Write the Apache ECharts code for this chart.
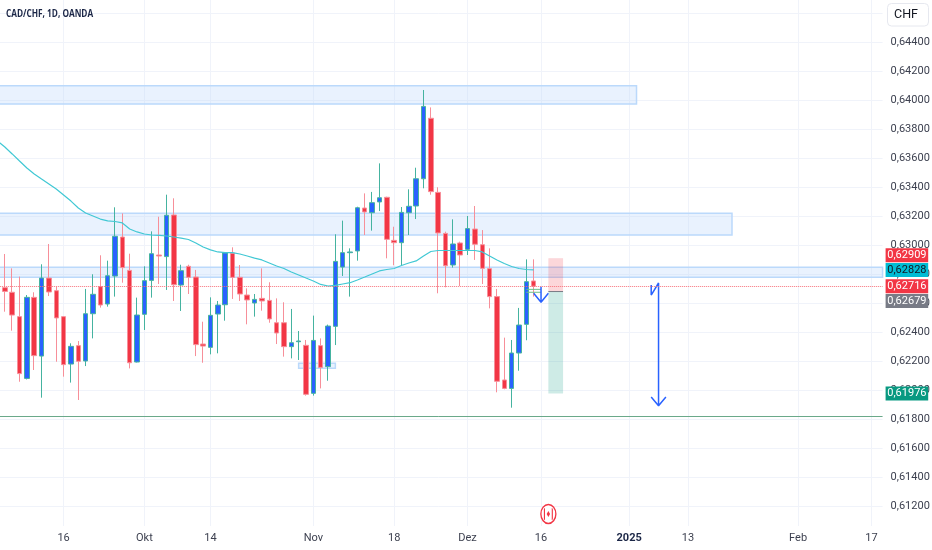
<!DOCTYPE html>
<html><head><meta charset="utf-8">
<script src="https://cdn.jsdelivr.net/npm/echarts@6/dist/echarts.min.js"></script>
<style>html,body{margin:0;padding:0;background:#fff;overflow:hidden;width:932px;height:550px}#c{position:absolute;left:-20px;top:-20px;width:972px;height:590px}</style>
</head><body><div id="c"></div>
<script>
const opens=[.63088,.62706,.62674,.62506,.62080,.62639,.62234,.62772,.62685,.62506,.62179,.62306,.62200,.62526,.62713,.62593,.62786,.63055,.62825,.62193,.62522,.62756,.62931,.62920,.63207,.62724,.62853,.62779,.62317,.62294,.62524,.62588,.62943,.62777,.62655,.62600,.62632,.62618,.62464,.62464,.62299,.62333,.62308,.61977,.62306,.62161,.62439,.62848,.62947,.62959,.63255,.63223,.63297,.63329,.63032,.63016,.63223,.63269,.63457,.63874,.63363,.63080,.62862,.63014,.62970,.63110,.63002,.62837,.62644,.62069,.62011,.62255,.62453,.62752];
const closes=[.62754,.62680,.62517,.62113,.62639,.62237,.62772,.62676,.62497,.62175,.62301,.62198,.62526,.62660,.62586,.62788,.63060,.62844,.62188,.62517,.62754,.62940,.62924,.63205,.62726,.62823,.62777,.62313,.62303,.62515,.62586,.62945,.62777,.62662,.62621,.62625,.62614,.62490,.62393,.62299,.62326,.62338,.61970,.62342,.62156,.62441,.62887,.62947,.62952,.63257,.63228,.63292,.63326,.63039,.63016,.63225,.63267,.63457,.63956,.63368,.63083,.62857,.63007,.62931,.63113,.63005,.62839,.62644,.62060,.62011,.62255,.62448,.62747,.62716];
const lows=[.62700,.62540,.62409,.62057,.62073,.62138,.61947,.62648,.62195,.62092,.62051,.61931,.62165,.62356,.62568,.62575,.62644,.62740,.62149,.62190,.62414,.62637,.62731,.62690,.62614,.62545,.62662,.62234,.62188,.62246,.62253,.62478,.62628,.62614,.62453,.62506,.62547,.62464,.62317,.62230,.62218,.62207,.61961,.61961,.62011,.62064,.62310,.62786,.62644,.62892,.63069,.63099,.63234,.62908,.62860,.62860,.63069,.63179,.63391,.63347,.62667,.62708,.62844,.62717,.62931,.62897,.62731,.62563,.61984,.62005,.61878,.62133,.62343,.62644];
const highs=[.63120,.62938,.62839,.62782,.62655,.62674,.62867,.63007,.62713,.62510,.62322,.62338,.62697,.62798,.62929,.62892,.63260,.63218,.62940,.62637,.62853,.63094,.63195,.63347,.63322,.62864,.62864,.62828,.62471,.62639,.62614,.62949,.62984,.62862,.62701,.62662,.62839,.62743,.62632,.62605,.62559,.62407,.62345,.62513,.62356,.62451,.63074,.63168,.62977,.63264,.63356,.63366,.63563,.63333,.63126,.63262,.63384,.63533,.64069,.63949,.63398,.63092,.63177,.63023,.63200,.63269,.63103,.62977,.62697,.62361,.62345,.62566,.62901,.62901];
const maValues=[.63717,.63676,.63628,.63579,.63531,.63490,.63455,.63421,.63386,.63345,.63303,.63255,.63221,.63200,.63179,.63166,.63162,.63152,.63110,.63090,.63076,.63069,.63067,.63062,.63055,.63048,.63038,.63014,.62986,.62966,.62952,.62948,.62948,.62938,.62924,.62910,.62897,.62876,.62855,.62838,.62814,.62793,.62772,.62752,.62728,.62717,.62721,.62731,.62740,.62759,.62779,.62800,.62821,.62831,.62838,.62859,.62876,.62890,.62924,.62955,.62962,.62962,.62962,.62962,.62962,.62962,.62952,.62924,.62897,.62872,.62852,.62838,.62831,.62828];

// Trading days, weekdays only, 2024-09-03 onward
const categories=[];
for(let d=new Date(Date.UTC(2024,8,3));categories.length<121;d=new Date(d.getTime()+864e5)){
  if(d.getUTCDay()%6!==0)categories.push(d.toISOString().slice(0,10));
}
const tickLabels={'2024-09-16':'16','2024-10-01':'Okt','2024-10-14':'14','2024-11-01':'Nov','2024-11-18':'18','2024-12-02':'Dez','2024-12-16':'16','2025-01-01':'2025','2025-01-13':'13','2025-02-03':'Feb','2025-02-17':'17'};
const firstDay=categories[0], lastDay=categories[categories.length-1];

const blueZones=[
 ['2024-09-03','2025-01-02',.63972,.64099],
 ['2024-09-03','2025-01-21',.63069,.63219],
 ['2024-10-30','2024-11-06',.62150,.62184]
];
const fullWidthZone=[.62777,.62846];
const riskBox=['2024-12-17','2024-12-19',.62679,.62909];
const rewardBox=['2024-12-17','2024-12-19',.61976,.62679];
const supportLevel=.61818, lastPrice=.62716;
const smallArrow=[['2024-12-13',.62667],['2024-12-16',.62605],['2024-12-17',.62667],['2024-12-16',.62605],['2024-12-16',.62712]];
const bigArrow=[['2025-01-06',.62724],['2025-01-06',.62655],['2025-01-07',.62738],['2025-01-07',.61892],['2025-01-06',.61952],['2025-01-07',.61892],['2025-01-08',.61952]];
const entryLine=[['2024-12-17',.62679],['2024-12-19',.62679]];
const greenLineA=[['2024-12-12',.62694],['2024-12-16',.62694]];
const greenLineB=[['2024-12-12',.62674],['2024-12-16',.62674]];
const priceTags=[
 {v:.62909,color:'#f23645',text:'#fff',dy:-3},
 {v:.62828,color:'#00bcd4',text:'#131722',dy:0},
 {v:.62716,color:'#f23645',text:'#fff',dy:0},
 {v:.62679,color:'#787b86',text:'#fff',dy:9.5},
 {v:.61976,color:'#089981',text:'#fff',dy:0}
];
const eventDay='2024-12-17', eventPrice=.61145;

const OFF=20; // the canvas sits 20px past the window edge so marks can run off the left and top
const font='Roboto, "Liberation Sans", sans-serif';
const comma=v=>v.toFixed(5).replace('.',',');
const simpleLine=(data,color,width,z,extra)=>Object.assign({type:'line',data,showSymbol:false,symbol:'none',silent:true,animation:false,z:z||4,
  xAxisIndex:0,yAxisIndex:0,lineStyle:{color,width},itemStyle:{color}},extra||{});

const zoneArea=blueZones.map(z=>[{coord:[z[0],z[2]]},{coord:[z[1],z[3]]}]);
zoneArea.push([{yAxis:fullWidthZone[0]},{yAxis:fullWidthZone[1]}]);
const BAND=7.345;
const option={
 animation:false,
 backgroundColor:'#fff',
 grid:[
  {left:OFF-2.505-BAND/2,top:OFF-16,width:BAND*121,height:551,containLabel:false},
  {left:OFF-2.505,top:OFF,width:BAND*120,height:526,containLabel:false}
 ],
 xAxis:[
  {type:'category',gridIndex:0,data:categories,boundaryGap:true,show:false},
  {type:'category',gridIndex:1,data:categories,boundaryGap:false,
   axisLine:{show:false},axisTick:{show:false},
   splitLine:{show:true,interval:(i,v)=>v in tickLabels,lineStyle:{color:'#f0f3fa',width:1}},
   axisLabel:{interval:(i,v)=>v in tickLabels,margin:7,fontFamily:font,fontSize:11,color:'#3d4150',
     formatter:v=>{const t=tickLabels[v]||'';return t==='2025'?'{b|2025}':t;},
     rich:{b:{fontWeight:700,fontSize:11,color:'#1c2747',fontFamily:font}}}}
 ],
 yAxis:[
  {type:'value',gridIndex:0,position:'right',min:.610,max:.648,interval:.002,
   axisLine:{show:false},axisTick:{show:false},
   splitLine:{show:true,showMinLine:false,showMaxLine:false,lineStyle:{color:'#f0f3fa',width:1}},
   axisLabel:{margin:8,fontFamily:font,fontSize:11,color:'#3d4150',
     formatter:v=>(v<.6115||v>.6445)?'':comma(v)}},
  {type:'value',gridIndex:1,show:false,min:0,max:1}
 ],
 series:[
  {type:'candlestick',name:'CAD/CHF',xAxisIndex:0,yAxisIndex:0,barWidth:5,z:2,silent:true,
   data:opens.map((o,i)=>[o,closes[i],lows[i],highs[i]]),
   itemStyle:{color:'#2962ff',color0:'#f23645',borderColor:'#45b3a0',borderColor0:'#f78f99',borderWidth:1},
   markArea:{silent:true,z:1,precision:5,itemStyle:{color:'rgba(187,217,251,0.33)',borderColor:'#bbd9fb',borderWidth:1.5},label:{show:false},data:zoneArea},
   markPoint:{silent:true,z:6,animation:false,data:priceTags.map(t=>({
      coord:[lastDay,t.v],symbol:'rect',symbolSize:[42.6,14],symbolOffset:[28,t.dy],
      itemStyle:{color:t.color},
      label:{show:true,position:'inside',formatter:comma(t.v),color:t.text,fontFamily:font,fontSize:11}
     })).concat([
      {coord:[eventDay,eventPrice],symbol:'circle',symbolSize:[15,19],itemStyle:{color:'#fff',borderColor:'#f23645',borderWidth:1.5},label:{show:false}},
      {coord:[eventDay,eventPrice],symbol:'path://M0 2Q0 0 2 0V16Q0 16 0 14Z M14 0Q16 0 16 2V14Q16 16 14 16Z M8 4L11 8L8 12L5 8Z',symbolSize:[9,12],itemStyle:{color:'#f23645'},label:{show:false}}
     ])}
  },
  {type:'custom',silent:true,xAxisIndex:0,yAxisIndex:0,z:1,data:[],renderItem:()=>null,
   markArea:{silent:true,z:1,label:{show:false},data:[
     [{coord:[riskBox[0],riskBox[3]],itemStyle:{color:'rgba(242,54,69,0.2)'}},{coord:[riskBox[1],riskBox[2]]}],
     [{coord:[rewardBox[0],rewardBox[3]],itemStyle:{color:'rgba(8,153,129,0.2)'}},{coord:[rewardBox[1],rewardBox[2]]}]
   ]}
  },
  simpleLine(categories.slice(0,maValues.length).map((d,i)=>[d,maValues[i]]),'#41c8d4',1.2,3,{
   markLine:{silent:true,symbol:'none',precision:5,label:{show:false},animation:false,data:[
     {yAxis:supportLevel,lineStyle:{color:'#6aa98a',width:1,type:'solid'}},
     {yAxis:lastPrice,lineStyle:{color:'#f7707b',width:1,type:'dotted'}}
   ]}}),
  simpleLine(entryLine,'#787b86',1,3),
  simpleLine(greenLineA,'#6fbf8a',1,3),
  simpleLine(greenLineB,'#6fbf8a',1,3),
  simpleLine(smallArrow,'#2962ff',1.5,4),
  simpleLine(bigArrow,'#2962ff',1.5,4)
 ],
 graphic:[
  {type:'text',x:6+OFF,y:8+OFF,scaleX:.75,style:{text:'CAD/CHF, 1D, OANDA',font:'700 11px "Open Sans", sans-serif',fill:'#1c2747'},z:11},
  {type:'rect',shape:{x:887.5+OFF,y:3.5+OFF,width:41,height:22.5,r:4},style:{fill:'#fff',stroke:'#e6e8ef',lineWidth:1},z:10},
  {type:'text',x:894+OFF,y:8+OFF,style:{text:'CHF',font:'12.5px '+font,fill:'#131722'},z:11}
 ]
};
echarts.init(document.getElementById('c'),null,{renderer:'canvas'}).setOption(option);
</script>
</body></html>
